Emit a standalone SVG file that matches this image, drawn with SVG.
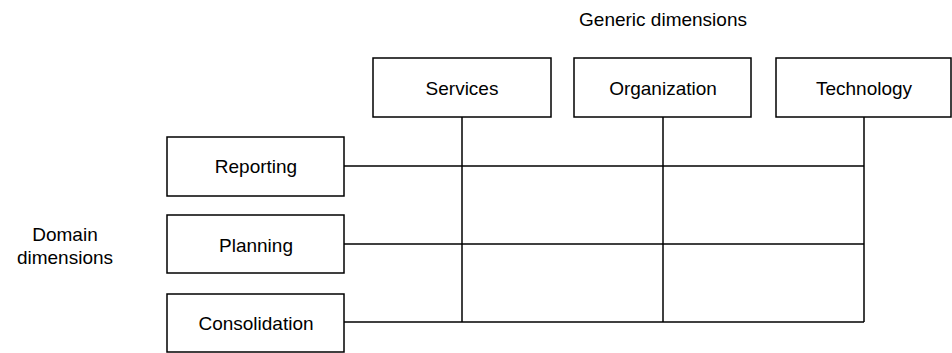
<svg xmlns="http://www.w3.org/2000/svg" width="952" height="353" viewBox="0 0 952 353">
<style>
.box{fill:#fff;stroke:#000;stroke-width:1.5}
.t{font-family:"Liberation Sans",Arial,sans-serif;font-size:19px;fill:#000;text-anchor:middle}
.c{stroke:#000;stroke-width:1.5;fill:none}
</style>
<rect width="952" height="353" fill="#fff"/>
<g id="connectors">
<line class="c" x1="462" y1="117" x2="462" y2="322"/>
<line class="c" x1="663" y1="117" x2="663" y2="322"/>
<line class="c" x1="864" y1="117" x2="864" y2="322"/>
<line class="c" x1="344" y1="166" x2="864" y2="166"/>
<line class="c" x1="344" y1="244" x2="864" y2="244"/>
<line class="c" x1="344" y1="322" x2="864" y2="322"/>
</g>
<g id="label-generic"><text class="t" x="663" y="26">Generic dimensions</text></g>
<g id="label-domain"><text class="t" x="65" y="241">Domain</text><text class="t" x="65" y="264">dimensions</text></g>
<g id="services"><rect class="box" x="373" y="58" width="178" height="59"/><text class="t" x="462" y="95">Services</text></g>
<g id="organization"><rect class="box" x="574" y="58" width="177" height="59"/><text class="t" x="663" y="95">Organization</text></g>
<g id="technology"><rect class="box" x="776" y="58" width="175" height="59"/><text class="t" x="864" y="95">Technology</text></g>
<g id="reporting"><rect class="box" x="167" y="137" width="177" height="59"/><text class="t" x="256" y="173">Reporting</text></g>
<g id="planning"><rect class="box" x="167" y="215" width="177" height="58"/><text class="t" x="256" y="252">Planning</text></g>
<g id="consolidation"><rect class="box" x="167" y="294" width="177" height="58"/><text class="t" x="256" y="330">Consolidation</text></g>
</svg>
